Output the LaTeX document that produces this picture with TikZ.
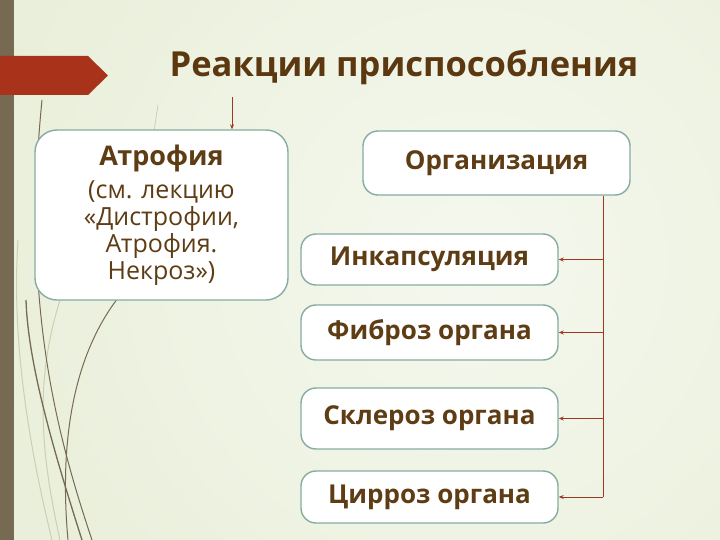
\documentclass[tikz,border=0pt]{standalone}
\usepackage{fontspec}
\setmainfont{Open Sans}
\usepackage{xcolor}
\usetikzlibrary{arrows.meta,positioning,calc}

\definecolor{bglight}{HTML}{F5F8EE}
\definecolor{bgdark}{HTML}{E0E8CB}
\definecolor{barbrown}{HTML}{766A52}
\definecolor{grasslight}{HTML}{C9D1B4}
\definecolor{bannerred}{HTML}{A8321A}
\definecolor{titlebrown}{HTML}{5C3810}
\definecolor{textbrown}{HTML}{5E3C14}
\definecolor{boxline}{HTML}{86ACA2}
\definecolor{linkred}{HTML}{9A3A22}

\begin{document}
\begin{tikzpicture}[x=1pt, y=-1pt,
    box/.style={draw=boxline, line width=1.4pt, fill=white, rounded corners=15pt,
      text=textbrown, font=\bfseries\fontsize{26}{30}\selectfont},
    link/.style={draw=linkred, line width=0.8pt},
    arr/.style={link, -{Stealth[length=5pt, width=4pt]}}]

  % background
  \useasboundingbox (0,0) rectangle (720,540);
  \begin{scope}
    \clip (0,0) rectangle (720,540);
    \shade[inner color=bglight, outer color=bgdark] (470,260) circle (900pt);
  \end{scope}
  \fill[barbrown] (0,0) rectangle (14,540);

  % grass
  \draw[grasslight, line width=1pt] (52,540) .. controls (25,430) and (12,330) .. (18,240);
  \draw[grasslight, line width=1pt] (60,540) .. controls (40,450) and (35,380) .. (60,300);
  \draw[barbrown, line width=1pt] (92,540) .. controls (55,430) and (22,300) .. (42,100);
  \draw[barbrown, line width=1.3pt] (82,540) .. controls (50,440) and (28,360) .. (26,300);
  \draw[barbrown, line width=1pt] (68,540) .. controls (58,430) and (78,350) .. (118,298);
  \draw[grasslight, line width=0.8pt] (130,288) -- (158,105);

  % banner
  \fill[bannerred] (0,56) -- (88,56) -- (108,75.5) -- (88,95) -- (0,95) -- cycle;

  \node[text=titlebrown, font=\bfseries\fontsize{34.5}{40}\selectfont] (title) at (404,67) {Реакции приспособления};

  \node[box, rounded corners=22pt, minimum width=253pt, minimum height=170pt, align=center,
    font=\fontsize{25}{27}\selectfont] (atr) at (161.5,215)
    {\bfseries\fontsize{27}{30}\selectfont Атрофия\\[6pt]%
     (см. лекцию\\«Дистрофии,\\Атрофия.\\Некроз»)};
  \node[box, minimum width=267pt, minimum height=64pt] (org) at (496.5,163) {Организация};

  \node[box, minimum width=257pt, minimum height=51pt] (inc) at (429.5,259.5) {Инкапсуляция};
  \node[box, minimum width=257pt, minimum height=55pt] (fib) at (429.5,332.5) {Фиброз органа};
  \node[box, minimum width=257pt, minimum height=61pt] (scl) at (429.5,418.5) {Склероз органа};
  \node[box, minimum width=257pt, minimum height=52pt] (cir) at (429.5,497) {Цирроз органа};

  \coordinate (ttl) at (232,97);
  \coordinate (bus) at (603,0);

  \draw[arr] (ttl) -- (ttl |- atr.north);
  \draw[link] (org.south -| bus) -- (cir.east -| bus);
  \foreach \n in {inc,fib,scl,cir}
    \draw[arr] (\n.east -| bus) -- (\n.east);
\end{tikzpicture}
\end{document}
